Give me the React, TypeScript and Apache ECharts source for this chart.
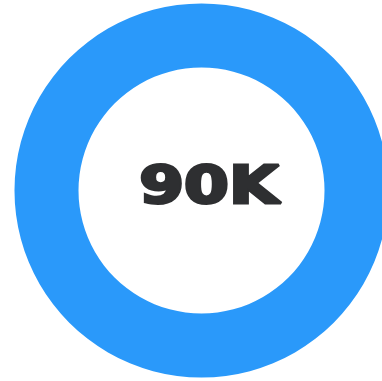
import React, { useEffect, useRef } from "react";
import * as echarts from "echarts";

const categories = ["Total"];
const values = [90000];
const centerLabel = "90K";

export default function App() {
  const ref = useRef<HTMLDivElement>(null);
  useEffect(() => {
    if (!ref.current) return;
    const chart = echarts.init(ref.current, null, { renderer: "svg" });
    chart.setOption({
      animation: false,
      series: [
        {
          type: "pie",
          center: [201.5, 190.5],
          radius: [123, 187],
          silent: true,
          label: { show: false },
          labelLine: { show: false },
          itemStyle: { color: "#2a99fa" },
          data: categories.map((c, i) => ({ name: c, value: values[i] })),
        },
      ],
      graphic: [
        {
          type: "text",
          x: 209,
          y: 185,
          scaleX: 1.24,
          style: {
            text: centerLabel,
            x: 0,
            y: 0,
            align: "center",
            verticalAlign: "middle",
            fontFamily: "DejaVu Sans",
            fontWeight: "bold",
            fontSize: 52,
            fill: "#2e2f31",
            stroke: "#2e2f31",
            lineWidth: 3,
          },
        },
      ],
    });
    return () => chart.dispose();
  }, []);
  return (
    <div
      ref={ref}
      style={{ position: "fixed", left: 0, top: 0, width: 382, height: 381 }}
    />
  );
}
